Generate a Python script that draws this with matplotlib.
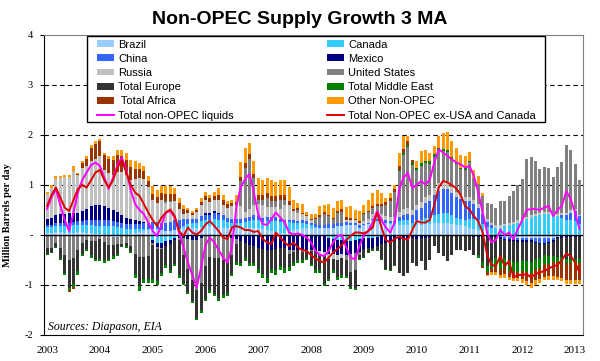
import numpy as np
import matplotlib.pyplot as plt
import matplotlib.patches as mpatches

# monthly 3-month-average growth, Jan 2003 .. Feb 2013 (million b/d)
years = ['2003', '2004', '2005', '2006', '2007', '2008', '2009', '2010', '2011', '2012', '2013']

brazil = [.05, .05, .06, .06, .05, .05, .05, .06, .06, .05, .04, .03,
          .02, 0, -.02, -.03, -.03, -.02, 0, .03, .05, .07, .08, .1,
          .12, .12, .1, .08, .08, .1, .12, .14, .15, .15, .15, .16,
          .18, .18, .17, .15, .15, .15, .15, .15, .15, .15, .15, .15,
          .15, .12, .1, .08, .06, .05, .05, .08, .1, .12, .15, .15,
          .15, .15, .15, .15, .15, .15, .18, .18, .2, .2, .2, .15,
          .2, .22, .3, .28, .28, .25, .22, .2, .2, .2, .2, .15,
          .2, .2, .22, .22, .25, .25, .25, .25, .22, .2, .2, .18,
          .15, .12, .1, .08, .05, .03, 0, -.02, -.03, -.03, -.04, -.05,
          -.05, -.05, -.05, -.05, -.05, -.05, -.05, -.05, -.03, -.02, 0, .02,
          .03, .03]
canada = [.12, .12, .13, .13, .14, .14, .15, .15, .15, .15, .16, .16,
          .17, .18, .18, .18, .17, .15, .12, .1, .08, .06, .04, .02,
          -.1, -.15, -.15, -.12, -.1, -.05, 0, .05, .08, .1, .1, .12,
          .12, .12, .15, .15, .15, .12, .1, .1, .1, .12, .14, .15,
          .15, .15, .18, .2, .22, .22, .2, .18, .15, .12, .1, .08,
          .05, .02, 0, -.02, -.05, -.08, -.1, -.1, -.12, -.12, -.1, -.08,
          -.06, -.05, -.05, -.03, 0, 0, .02, .04, .08, .1, .1, .1,
          .1, .1, .12, .12, .15, .18, .2, .2, .18, .15, .12, .12,
          .18, .2, .2, .15, .12, .12, .15, .15, .18, .2, .22, .25,
          .28, .32, .35, .38, .4, .42, .42, .4, .38, .35, .3, .28,
          .25, .2]
china = [.03, .04, .05, .05, .05, .06, .06, .07, .08, .1, .1, .12,
         .12, .13, .12, .1, .1, .1, .1, .1, .1, .1, .12, .13,
         .15, .15, .15, .17, .18, .2, .18, .13, .1, .08, .08, .1,
         .1, .1, .12, .12, .1, .08, .08, .08, .08, .08, .08, .1,
         .08, .08, .08, .08, .08, .06, .05, .05, .05, .05, .05, .05,
         .05, .05, .06, .06, .07, .07, .07, .07, .06, .05, .05, .05,
         .03, .03, .03, .05, .05, .05, .05, .05, .08, .1, .12, .15,
         .2, .25, .3, .35, .4, .45, .47, .47, .45, .42, .4, .38,
         .35, .3, .25, .2, .1, .05, 0, -.02, -.04, -.05, -.05, -.05,
         -.05, -.05, -.05, -.08, -.1, -.1, -.08, -.05, 0, .05, .1, .15,
         .2, .15]
mexico = [.12, .14, .16, .18, .18, .2, .18, .16, .2, .22, .28, .3,
          .3, .28, .25, .22, .2, .15, .12, .1, .08, .05, .02, 0,
          -.05, -.08, -.1, -.1, -.08, -.05, -.05, -.05, -.08, -.1, -.1, -.05,
          .05, .05, .05, .03, 0, -.03, -.05, -.08, -.12, -.15, -.2, -.22,
          -.25, -.28, -.3, -.3, -.28, -.25, -.25, -.3, -.3, -.3, -.3, -.3,
          -.3, -.32, -.32, -.32, -.32, -.3, -.3, -.28, -.28, -.25, -.25, -.25,
          -.22, -.2, -.2, -.18, -.18, -.15, -.15, -.12, -.1, -.1, -.08, -.05,
          -.08, -.06, -.05, -.03, 0, 0, 0, 0, 0, 0, 0, -.02,
          -.02, -.03, -.03, -.03, -.03, -.03, -.03, -.03, -.03, -.03, -.03, -.03,
          -.03, -.03, -.03, -.03, -.03, -.03, -.03, -.03, -.03, -.03, -.03, -.03,
          -.03, -.03]
russia = [.5, .6, .72, .72, .74, .72, .84, .76, .85, .86, .9, .92,
          .97, .71, .69, .7, .79, .86, .86, .78, .82, .87, .87, .71,
          .44, .37, .46, .39, .41, .39, .23, .11, .12, .08, .13, .23,
          .25, .22, .22, .25, .2, .2, .25, .28, .25, .12, .15, .2,
          .25, .25, .2, .2, .2, .2, .3, .3, .18, .15, .12, .1,
          .05, 0, -.05, -.08, -.1, -.1, -.1, -.08, .05, .05, .05, .05,
          .05, .08, .1, .12, .1, .08, .08, .08, .1, .12, .12, .1,
          .1, .12, .12, .12, .15, .17, .17, .15, .12, .1, .08, .08,
          .08, .08, .07, .06, .05, .05, .05, .05, .05, .05, .05, .05,
          .05, .05, .05, .05, .05, .05, .05, .05, .05, .05, .05, .05,
          .05, .03]
usa = [-.25, -.25, -.15, -.25, -.4, -.5, -.45, -.3, -.15, -.1, -.12, -.12,
       -.08, -.14, -.18, -.16, -.15, -.15, -.15, -.22, -.38, -.44, -.44, -.42,
       -.05, -.05, -.03, .05, .02, 0, -.05, -.35, -.6, -.8, -1.0, -.9,
       -.62, -.44, -.45, -.45, -.5, -.52, -.35, -.1, .5, .88, 1.0, .55,
       .07, .1, .18, .13, .13, .18, .1, -.08, -.03, .06, -.04, -.03,
       -.01, .1, .16, .22, .17, .1, .2, .22, -.1, -.37, -.34, -.06,
       .14, .13, .11, .13, .15, .23, .32, .5, .82, 1.08, 1.22, .9,
       .7, .72, .68, .62, .62, .65, .6, .6, .55, .55, .52, .55,
       .7, .45, .4, .3, .33, .38, .35, .48, .45, .54, .61, .71,
       .8, 1.15, 1.17, 1.05, .88, .9, .88, .72, .94, 1.01, 1.36, 1.21,
       .9, .7]
europe = [-.12, -.08, -.08, -.2, -.35, -.55, -.52, -.42, -.22, -.18, -.28, -.35,
          -.39, -.36, -.27, -.23, -.19, -.05, -.07, -.1, -.4, -.58, -.43, -.45,
          -.67, -.63, -.47, -.37, -.51, -.47, -.7, -.55, -.45, -.41, -.55, -.55,
          -.65, -.66, -.72, -.81, -.69, -.61, -.37, -.35, -.43, -.3, -.35, -.33,
          -.42, -.49, -.55, -.37, -.41, -.36, -.4, -.26, -.23, -.2, -.16, -.12,
          -.26, -.38, -.33, -.55, -.4, -.22, -.34, -.34, -.31, -.3, -.37, -.08,
          -.15, -.08, -.05, -.09, -.29, -.52, -.55, -.48, -.65, -.72, -.67, -.5,
          -.54, -.46, -.64, -.46, -.22, -.35, -.42, -.52, -.39, -.29, -.29, -.3,
          -.27, -.36, -.37, -.51, -.59, -.48, -.42, -.4, -.36, -.4, -.41, -.4,
          -.37, -.39, -.4, -.32, -.27, -.22, -.26, -.29, -.37, -.38, -.44, -.44,
          -.44, -.44]
mideast = [-.02, -.02, -.02, -.05, -.05, -.05, -.06, -.08, -.05, -.04, -.05, -.05,
           -.05, -.05, -.05, -.05, -.05, -.02, -.03, -.03, -.07, -.1, -.08, -.08,
           -.08, -.08, -.07, -.06, -.06, -.05, -.05, -.04, -.04, -.04, -.04, -.05,
           -.05, -.05, -.05, -.06, -.06, -.06, -.05, -.06, -.07, -.07, -.07, -.07,
           -.08, -.08, -.1, -.08, -.1, -.08, -.1, -.08, -.06, -.05, -.05, -.04,
           -.05, -.05, -.05, -.05, -.05, -.05, -.05, -.05, -.04, -.03, -.03, -.02,
           -.02, -.02, -.02, -.02, -.02, -.02, -.02, -.02, .03, .04, .05, .05,
           .05, .05, .05, .05, .05, .05, .04, .04, .04, .04, .03, .03,
           .02, 0, -.05, -.08, -.12, -.15, -.18, -.2, -.2, -.2, -.2, -.2,
           -.22, -.22, -.22, -.2, -.2, -.18, -.15, -.12, -.1, -.1, -.08, -.08,
           -.08, -.08]
africa = [0, 0, 0, 0, 0, -.03, -.04, .03, .1, .15, .27, .3,
          .3, .3, .28, .3, .35, .32, .3, .25, .2, .18, .15, .12,
          .12, .12, .13, .14, .14, .14, .12, .1, .06, .04, .04, .06,
          .08, .08, .08, .1, .1, .08, .06, .05, .08, .1, .1, .08,
          .1, .1, .1, .1, .1, .1, .1, .08, .05, .05, .03, .02,
          .02, .02, .03, .03, .02, .02, .03, .05, .05, .04, .03, .03,
          .02, .03, .05, .05, .05, .05, .05, .05, .08, .08, .08, .05,
          0, 0, 0, 0, 0, 0, 0, 0, 0, 0, 0, 0,
          0, 0, 0, -.03, -.05, -.08, -.1, -.12, -.12, -.12, -.12, -.12,
          -.15, -.18, -.2, -.22, -.22, -.25, -.25, -.28, -.3, -.32, -.35, -.35,
          -.35, -.35]
other = [.05, .05, .06, .04, .04, .03, .1, .02, .05, .05, .05, .05,
         .05, .05, .06, .08, .1, .12, .15, .15, .15, .12, .1, .1,
         .15, .15, .15, .15, .15, .12, .1, .08, .04, .03, .05, .08,
         .08, .06, .08, .15, .1, .05, .06, .15, .3, .3, .23, .25,
         .35, .31, .31, .32, .27, .3, .3, .28, .17, .1, .18, .06,
         .11, .09, .18, .15, .22, .21, .2, .18, .21, .24, .17, .2,
         .17, .21, .26, .27, .22, .09, .11, .08, .26, .26, .09, 0,
         .13, .24, .22, .17, .16, .23, .32, .35, .32, .29, .26, .24,
         .18, .16, .16, .06, -.03, -.05, -.06, -.06, -.07, -.07, -.07, -.07,
         -.08, -.08, -.1, -.1, -.08, -.07, -.07, -.07, -.07, -.07, -.07, -.07,
         -.07, -.07]

total_liquids = [.52, .75, .92, .6, .3, .08, .45, .85, 1.1, 1.25, 1.4, 1.45,
                 1.38, 1.15, .92, 1.15, 1.4, 1.55, 1.3, .9, .62, .5, .42, .25,
                 .08, -.02, .2, .45, .48, .35, .05, -.25, -.55, -.8, -1.05, -.65,
                 -.2, -.05, -.15, -.3, -.45, -.55, -.25, .55, .95, 1.12, 1.22, .85,
                 .41, .22, .2, .32, .45, .35, .25, .05, .01, .03, 0, -.05,
                 -.15, -.32, -.4, -.42, -.32, -.15, -.02, 0, -.25, -.45, -.49, -.22,
                 0, .08, .25, .48, .3, .15, .05, .25, .9, 1.15, 1.24, .94,
                 1.0, 1.08, 1.01, 1.11, 1.45, 1.71, 1.65, 1.58, 1.51, 1.45, 1.41, 1.35,
                 1.38, 1.18, .85, .45, .05, -.15, -.1, .1, 0, .05, -.08, .12,
                 .3, .5, .52, .52, .5, .55, .58, .38, .5, .58, .88, .72,
                 .45, .12]
ex_usa_canada = [.58, .8, .95, .75, .55, .48, .7, .92, 1.0, .95, 1.1, 1.25,
                 1.3, 1.1, .95, 1.1, 1.35, 1.5, 1.25, 1.0, .85, .78, .62, .45,
                 .3, .18, .35, .45, .51, .38, .08, -.02, .15, .05, .01, .08,
                 .21, .28, .18, .08, -.05, -.08, .15, .18, .15, .1, .1, .06,
                 .08, -.08, -.15, -.18, .05, -.05, -.15, -.22, -.15, -.25, -.3, -.32,
                 -.4, -.47, -.52, -.55, -.45, -.35, -.28, -.2, -.1, -.02, .05, .05,
                 .03, .08, .15, .45, .15, -.1, -.15, -.08, -.03, -.08, -.09, .1,
                 .28, .25, .25, .3, .6, .95, 1.08, 1.05, 1.0, .93, .8, .58,
                 .51, .38, .27, .05, -.4, -.6, -.62, -.42, -.62, -.52, -.85, -.8,
                 -.8, -.78, -.85, -.78, -.75, -.72, -.67, -.63, -.6, -.5, -.37, -.42,
                 -.55, -.75]

series = [('Brazil', brazil, '#99CCFF'),
          ('Canada', canada, '#33CCFF'),
          ('China', china, '#3366FF'),
          ('Mexico', mexico, '#000080'),
          ('Russia', russia, '#C0C0C0'),
          ('United States', usa, '#808080'),
          ('Total Europe', europe, '#333333'),
          ('Total Middle East', mideast, '#008000'),
          (' Total Africa', africa, '#993300'),
          ('Other Non-OPEC', other, '#FF9900')]

fig = plt.figure(figsize=(6, 3.61), dpi=100)
ax = fig.add_axes([44 / 600, 1 - 335 / 361, 539 / 600, 300 / 361])

x = np.arange(len(brazil))
pos = np.zeros(len(x))
neg = np.zeros(len(x))
handles = {}
for name, vals, col in series:
    v = np.array(vals, dtype=float)
    bottom = np.where(v >= 0, pos, neg)
    handles[name] = ax.bar(x, v, bottom=bottom, width=0.66, color=col,
                           linewidth=0, zorder=2, label=name)
    pos += np.clip(v, 0, None)
    neg += np.clip(v, None, 0)

l1, = ax.plot(x, total_liquids, color='#FF00FF', lw=1.4, zorder=4,
              label='Total non-OPEC liquids')
l2, = ax.plot(x, ex_usa_canada, color='#E00000', lw=1.4, zorder=5,
              label='Total Non-OPEC ex-USA and Canada')

for yv in [1, 2, 3, -1]:
    ax.axhline(yv, color='black', lw=0.8, ls=(0, (4, 3)), zorder=1)
ax.axhline(0, color='black', lw=1.0, zorder=3)

ax.set_xlim(-0.7, 121.8)
ax.set_ylim(-2, 4)
ax.set_yticks([4, 3, 2, 1, 0, -1, -2])
ax.set_yticklabels(['4', '3', '2', '1', '-', '-1', '-2'],
                   fontfamily='Liberation Serif', fontsize=7.5)
ax.set_xticks(np.arange(0, 121, 12))
ax.set_xticklabels(years, fontfamily='Liberation Serif', fontsize=8)
ax.tick_params(axis='x', length=0, pad=8)
ax.tick_params(axis='y', length=3, pad=5)

for side in ['top', 'right']:
    ax.spines[side].set_color('#808080')
for side in ['left', 'bottom']:
    ax.spines[side].set_color('black')

ax.set_ylabel('Million Barrels per day', fontfamily='Liberation Serif',
              fontweight='bold', fontsize=7.5)
ax.yaxis.set_label_coords(-0.059, 0.40)

fig.text(0.5, 1 - 19 / 361, 'Non-OPEC Supply Growth 3 MA', ha='center', va='center',
         fontfamily='Liberation Sans', fontweight='bold', fontsize=14)
ax.text(0.008, 0.018, 'Sources: Diapason, EIA', transform=ax.transAxes,
        fontfamily='Liberation Serif', fontstyle='italic', fontsize=8.5)

# legend box drawn separately, two frameless legends inside it
box = mpatches.Rectangle(((87 - 44) / 539, (335 - 122) / 300),
                         (545 - 87) / 539, (122 - 36) / 300,
                         transform=ax.transAxes, facecolor='white',
                         edgecolor='black', lw=1.0, zorder=6)
ax.add_patch(box)

col1 = [handles['Brazil'], handles['China'], handles['Russia'], handles['Total Europe'],
        handles[' Total Africa'], l1]
col2 = [handles['Canada'], handles['Mexico'], handles['United States'],
        handles['Total Middle East'], handles['Other Non-OPEC'], l2]
leg_kw = dict(loc='upper left', frameon=False, borderpad=0, borderaxespad=0,
              prop={'family': 'Liberation Sans', 'size': 8},
              handlelength=1.53, handleheight=0.55, handletextpad=0.35,
              labelspacing=0.38)
leg1 = ax.legend(col1, [h.get_label() for h in col1],
                 bbox_to_anchor=((97 - 44) / 539, (335 - 39.5) / 300), **leg_kw)
leg1.set_zorder(7)
ax.add_artist(leg1)
leg2 = ax.legend(col2, [h.get_label() for h in col2],
                 bbox_to_anchor=((327 - 44) / 539, (335 - 39.5) / 300), **leg_kw)
leg2.set_zorder(7)

fig.savefig('out.png', dpi=100)
